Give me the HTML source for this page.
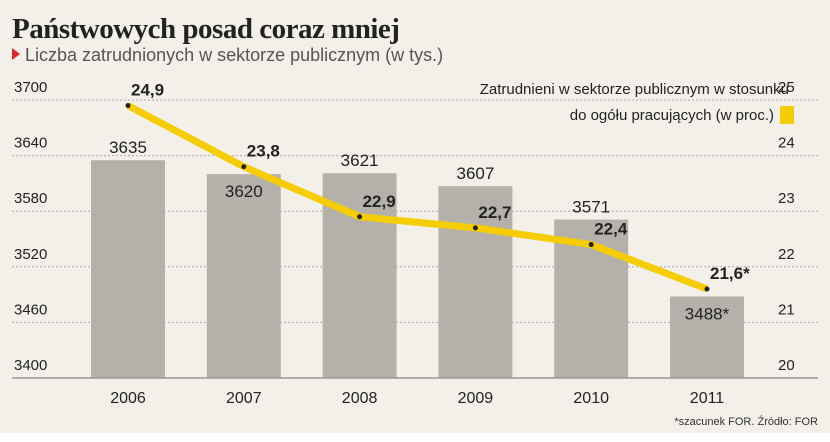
<!DOCTYPE html>
<html><head><meta charset="utf-8"><style>
body{margin:0;width:830px;height:442px;background:#fff;overflow:hidden;font-family:"Liberation Sans",sans-serif}
#bg{position:absolute;left:0;top:0;width:830px;height:433px;background:#f3f0e9}
</style></head><body>
<div id="bg"></div>
<svg id="c" width="830" height="442" style="position:absolute;left:0;top:0">
<text x="12" y="38" font-family="Liberation Serif,serif" font-weight="bold" font-size="29" fill="#222" letter-spacing="-0.5">Państwowych posad coraz mniej</text>
<polygon points="12,48 20,54 12,60" fill="#e0282e"/>
<text x="25" y="61" font-size="18" fill="#555">Liczba zatrudnionych w sektorze publicznym (w tys.)</text>
<text x="789" y="94" font-size="15" fill="#222" text-anchor="end">Zatrudnieni  w sektorze publicznym w stosunku</text>
<text x="774" y="120" font-size="15" fill="#222" text-anchor="end">do ogółu pracujących (w proc.)</text>
<rect x="780" y="106" width="14" height="18" fill="#f5cd00"/>
<g id="g"></g>
<text x="818" y="425" font-size="11" fill="#333" text-anchor="end">*szacunek FOR. Źródło: FOR</text>
</svg>
<script>
const years=["2006","2007","2008","2009","2010","2011"];
const employed=[3635,3620,3621,3607,3571,3488];
const employedLabels=["3635","3620","3621","3607","3571","3488*"];
const share=[24.9,23.8,22.9,22.7,22.4,21.6];
const shareLabels=["24,9","23,8","22,9","22,7","22,4","21,6*"];
const leftTicks=[3400,3460,3520,3580,3640,3700];
const rightTicks=[20,21,22,23,24,25];
const NS="http://www.w3.org/2000/svg",g=document.getElementById('g');
const yL=v=>378-(v-3400)/300*278, yR=v=>378-(v-20)/5*278, x=i=>128+i*115.8;
function mk(t,a,p){const e=document.createElementNS(NS,t);for(const k in a)e.setAttribute(k,a[k]);(p||g).appendChild(e);return e;}
leftTicks.forEach((v,i)=>{
 const y=yL(v);
 if(i>0){const l=mk('line',{x1:12,x2:818,y1:y,y2:y,stroke:'#aaa','stroke-dasharray':'2,2'});
 
 }
 const t=mk('text',{x:14,y:y-8,'font-size':15,fill:'#222'});t.textContent=v;
 
 
 const r=mk('text',{x:778,y:yR(rightTicks[i])-8,'font-size':15,fill:'#222'});r.textContent=rightTicks[i];
 
 
});
employed.forEach((v,i)=>{
 const b=mk('rect',{x:x(i)-37,y:yL(v),width:74,height:378-yL(v),fill:'#b4b1aa'});
 
 
 const inside=(i==1||i==5);
 const t=mk('text',{x:x(i),y:inside?yL(v)+23:yL(v)-7,'font-size':17,fill:'#222','text-anchor':'middle'});t.textContent=employedLabels[i];
 
 
 const yt=mk('text',{x:x(i),y:403,'font-size':16,fill:'#222','text-anchor':'middle'});yt.textContent=years[i];
 
 
});
const ax=mk('line',{x1:12,x2:818,y1:378,y2:378,stroke:'#999','stroke-width':1.5});


const pl=mk('polyline',{points:share.map((v,i)=>x(i)+','+yR(v)).join(' '),fill:'none',stroke:'#f5cd00','stroke-width':7,'stroke-linejoin':'round'});


share.forEach((v,i)=>{
 const c=mk('circle',{cx:x(i),cy:yR(v),r:2.5,fill:'#222'});
 
 
 const t=mk('text',{x:x(i)+3,y:yR(v)-10,'font-size':17,'font-weight':'bold',fill:'#222'});t.textContent=shareLabels[i];
 
 
});
</script>
</body></html>
